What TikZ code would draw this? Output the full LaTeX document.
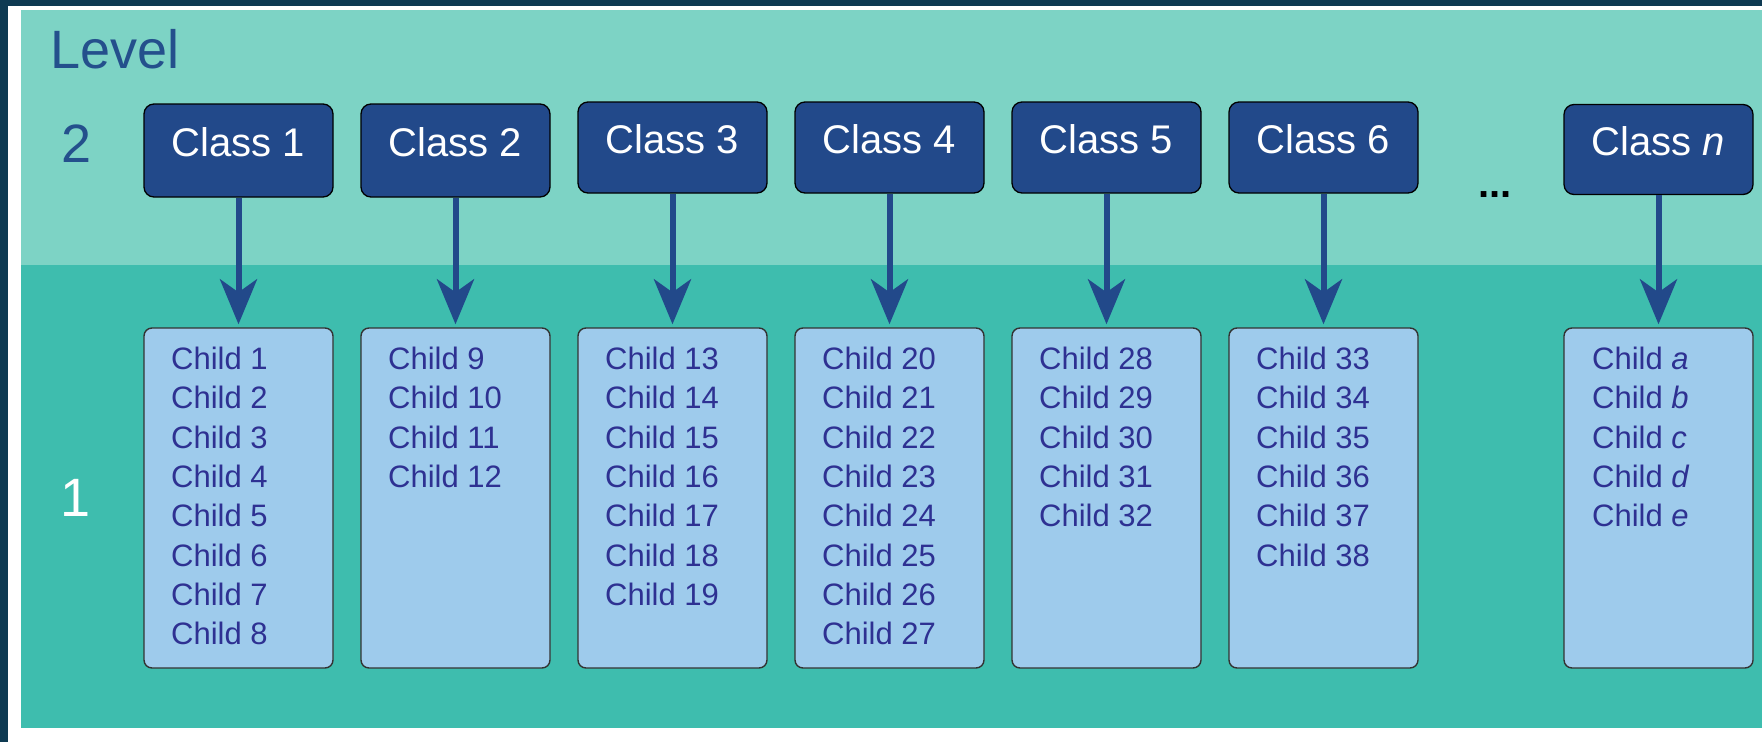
\documentclass[tikz,border=0pt]{standalone}
\usepackage{fontspec}
\setmainfont{Liberation Sans}
\usetikzlibrary{arrows.meta}
\definecolor{frame}{HTML}{0E3A52}
\definecolor{lightteal}{HTML}{7DD3C5}
\definecolor{teal}{HTML}{3EBDAE}
\definecolor{classblue}{HTML}{22498A}
\definecolor{childfill}{HTML}{9ECBEC}
\definecolor{childtext}{HTML}{2E3192}
\definecolor{leveltext}{HTML}{24508C}
\tikzset{
  classbox/.style={draw=black, line width=1.3pt, fill=classblue, rounded corners=10pt,
    minimum width=189pt, inner sep=0pt, text=white,
    font=\fontsize{40}{48}\selectfont, text height=30pt, text depth=19pt},
  childbox/.style={draw=black!80, line width=1.4pt, fill=childfill, rounded corners=8pt,
    minimum width=189pt, minimum height=340pt, inner sep=0pt},
  childtxt/.style={anchor=north west, inner sep=0pt, align=left, text=childtext,
    font=\fontsize{31}{39.3}\selectfont},
  leveltxt/.style={inner sep=0pt, text=leveltext, font=\fontsize{54}{60}\selectfont},
  arr/.style={draw=classblue, line width=6pt, shorten >=3pt,
    -{Stealth[length=45pt, width=37pt, inset=13pt]}},
}
\begin{document}
\begin{tikzpicture}[x=1pt,y=-1pt]
\useasboundingbox (0,0) rectangle (1762,742);
\fill[white] (0,0) rectangle (1762,742);
\fill[frame] (0,0) rectangle (1762,6);
\fill[frame] (0,0) rectangle (8,742);
\fill[lightteal] (21,10) rectangle (1762,265);
\fill[teal] (21,265) rectangle (1762,728);

\node[leveltxt, anchor=base west] (level) at (50,68) {Level};
\node[leveltxt, anchor=base] (lv2) at (77,162) {2};
\node[leveltxt, anchor=base, text=white] (lv1) at (76,516) {1};
\node[anchor=base, inner sep=0pt, font=\fontsize{40}{48}\selectfont\bfseries] (dots) at (1495,197) {...};

% class boxes
\node[classbox, minimum height=93pt] (c1) at (238.5,150.5) {Class 1};
\node[classbox, minimum height=93pt] (c2) at (455.5,150.5) {Class 2};
\node[classbox, minimum height=91pt] (c3) at (672.5,147.5) {Class 3};
\node[classbox, minimum height=91pt] (c4) at (889.5,147.5) {Class 4};
\node[classbox, minimum height=91pt] (c5) at (1106.5,147.5) {Class 5};
\node[classbox, minimum height=91pt] (c6) at (1323.5,147.5) {Class 6};
\node[classbox, minimum height=90pt] (cn) at (1658.5,149.5) {Class \textit{n}};

% child boxes
\node[childbox] (k1) at (238.5,498) {};
\node[childbox] (k2) at (455.5,498) {};
\node[childbox] (k3) at (672.5,498) {};
\node[childbox] (k4) at (889.5,498) {};
\node[childbox] (k5) at (1106.5,498) {};
\node[childbox] (k6) at (1323.5,498) {};
\node[childbox] (kn) at (1658.5,498) {};

\node[childtxt] (t1) at (171,347) {Child 1\\Child 2\\Child 3\\Child 4\\Child 5\\Child 6\\Child 7\\Child 8};
\node[childtxt] (t2) at (388,347) {Child 9\\Child 10\\Child 11\\Child 12};
\node[childtxt] (t3) at (605,347) {Child 13\\Child 14\\Child 15\\Child 16\\Child 17\\Child 18\\Child 19};
\node[childtxt] (t4) at (822,347) {Child 20\\Child 21\\Child 22\\Child 23\\Child 24\\Child 25\\Child 26\\Child 27};
\node[childtxt] (t5) at (1039,347) {Child 28\\Child 29\\Child 30\\Child 31\\Child 32};
\node[childtxt] (t6) at (1256,347) {Child 33\\Child 34\\Child 35\\Child 36\\Child 37\\Child 38};
\node[childtxt] (tn) at (1592,347) {Child \textit{a}\\Child \textit{b}\\Child \textit{c}\\Child \textit{d}\\Child \textit{e}};

% arrows
\draw[arr] (c1) -- (k1);
\draw[arr] (c2) -- (k2);
\draw[arr] (c3) -- (k3);
\draw[arr] (c4) -- (k4);
\draw[arr] (c5) -- (k5);
\draw[arr] (c6) -- (k6);
\draw[arr] (cn) -- (kn);
\end{tikzpicture}
\end{document}
